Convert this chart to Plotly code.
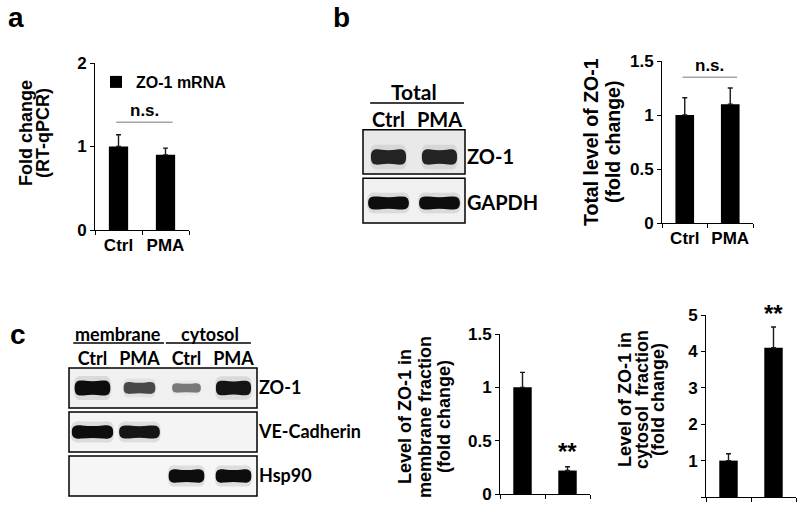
import plotly.graph_objects as go

W, H = 800, 505

groups = ["Ctrl", "PMA"]

# a  ZO-1 mRNA by RT-qPCR (fold change)
mrna_mean = [1.0, 0.9]
mrna_err = [0.14, 0.08]
mrna_ns = 1.29

# b  total ZO-1 protein (fold change)
total_mean = [1.0, 1.1]
total_err = [0.16, 0.15]
total_ns = 1.35

# c  ZO-1 in membrane / cytosol fraction (fold change)
membrane_mean = [1.0, 0.22]
membrane_err = [0.14, 0.035]
cytosol_mean = [1.0, 4.1]
cytosol_err = [0.19, 0.57]

# western blots: relative band strength per lane (0 = no band)
total_lanes = ["Ctrl", "PMA"]
total_rows = ["ZO-1", "GAPDH"]
total_bands = [[0.85, 0.85], [1.0, 1.0]]

frac_lanes = ["Ctrl", "PMA", "Ctrl", "PMA"]
frac_rows = ["ZO-1", "VE-Cadherin", "Hsp90"]
frac_bands = [[1.0, 0.6, 0.3, 0.95], [1.0, 0.95, 0.0, 0.0], [0.0, 0.0, 1.0, 1.0]]


def px(x):
    return x / W


def py(y):
    return 1 - y / H


ARIAL = "Liberation Sans, Arial, sans-serif"
CALIBRI = "Lato, Carlito, Calibri, sans-serif"
tick_font = dict(family=ARIAL, size=17, color="black", weight="bold")

fig = go.Figure()


def add_bars(n, mean, err, legend=False):
    fig.add_trace(go.Bar(
        x=groups, y=mean, width=0.41, name="ZO-1 mRNA", showlegend=legend,
        marker=dict(color="black", line=dict(width=0)),
        error_y=dict(type="data", symmetric=False, array=err, arrayminus=[0] * len(err),
                     color="#1a1a1a", thickness=1.4, width=2.5),
        xaxis="x" + n, yaxis="y" + n))


def bar_axes(n, xdom, ydom, yrange, dtick, labels=True):
    common = dict(showline=True, linecolor="black", linewidth=1, showgrid=False, zeroline=False,
                  ticks="outside", ticklen=4, tickcolor="black", tickfont=tick_font)
    fig.update_layout(**{
        "xaxis" + n: dict(domain=[px(xdom[0]), px(xdom[1])], anchor="y" + n, type="category",
                          range=[-0.5, 1.5], tickson="boundaries", tickangle=0,
                          showticklabels=labels, **common),
        "yaxis" + n: dict(domain=[py(ydom[0]), py(ydom[1])], anchor="x" + n, range=yrange,
                          dtick=dtick, **common),
    })


def ytitle(lines, xs, yc, size=18):
    for text, x in zip(lines, xs):
        fig.add_annotation(text=text, x=px(x), y=py(yc), xref="paper", yref="paper", textangle=-90,
                           showarrow=False, xanchor="center", yanchor="middle",
                           font=dict(family=ARIAL, size=size, color="black", weight="bold"))


def ns_mark(n, level):
    fig.add_shape(type="line", xref="x" + n, yref="y" + n, x0=-0.05, x1=1.15, y0=level, y1=level,
                  line=dict(color="#a6a6a6", width=1.5))
    fig.add_annotation(text="n.s.", xref="x" + n, yref="y" + n, x=0.55, y=level, yanchor="bottom",
                       showarrow=False, font=dict(family=ARIAL, size=17, color="black", weight="bold"))


def stars(n, mean, err, shift=0):
    fig.add_annotation(text="**", xref="x" + n, yref="y" + n, x=1, y=mean[1] + err[1], yanchor="bottom",
                       yshift=shift, showarrow=False,
                       font=dict(family=ARIAL, size=24, color="black", weight="bold"))


# ---- bar charts
add_bars("", mrna_mean, mrna_err, legend=True)
bar_axes("", (95, 189), (230, 63), [0, 2], 1)
ytitle(["Fold change", "(RT-qPCR)"], [26, 43], 133)
ns_mark("", mrna_ns)

add_bars("2", total_mean, total_err)
bar_axes("2", (662, 753), (223, 61), [0, 1.5], 0.5)
ytitle(["Total level of ZO-1", "(fold change)"], [591, 613], 142, size=19.5)
ns_mark("2", total_ns)

add_bars("3", membrane_mean, membrane_err)
bar_axes("3", (500, 590), (494, 334), [0, 1.5], 0.5, labels=False)
ytitle(["Level of ZO-1 in", "membrane fraction", "(fold change)"], [405, 425, 444], 417)
stars("3", membrane_mean, membrane_err)

add_bars("4", cytosol_mean, cytosol_err)
bar_axes("4", (706, 796), (497, 315), [0, 5], 1, labels=False)
ytitle(["Level of ZO-1 in", "cytosol  fraction", "(fold change)"], [625, 642, 658], 400)
stars("4", cytosol_mean, cytosol_err, shift=-2)


# ---- western blots
def band_path(cx, cy, hw, hh, pinch=0.8):
    def P(x, y):
        return f"{cx + x * hw:.4f},{cy + y * hh:.4f}"
    return ("M" + P(-1, 0)
            + " C" + P(-1, -1) + " " + P(-0.8, -1.05) + " " + P(-0.5, -1)
            + " Q" + P(0, -pinch) + " " + P(0.5, -1)
            + " C" + P(0.8, -1.05) + " " + P(1, -1) + " " + P(1, 0)
            + " C" + P(1, 1) + " " + P(0.8, 1.05) + " " + P(0.5, 1)
            + " Q" + P(0, pinch) + " " + P(-0.5, 1)
            + " C" + P(-0.8, 1.05) + " " + P(-1, 1) + " " + P(-1, 0) + " Z")


def blot_axes(n, lanes, rows, xr, yr, x0, dx, y0, dy, lane_y, row_x, size):
    lab = dict(family=CALIBRI, size=size, color="black", weight="bold")
    hidden = dict(showline=False, showgrid=False, zeroline=False, ticks="", anchor="free", tickfont=lab)
    fig.update_layout(**{
        "xaxis" + n: dict(domain=[px(x0 + xr[0] * dx), px(x0 + xr[1] * dx)], range=xr, side="top",
                          position=py(lane_y), tickvals=list(range(len(lanes))), ticktext=lanes, **hidden),
        "yaxis" + n: dict(domain=[py(y0 + yr[1] * dy), py(y0 + yr[0] * dy)], range=[yr[1], yr[0]],
                          side="right", position=px(row_x), tickvals=list(range(len(rows))),
                          ticktext=rows, **hidden),
    })
    xs = list(range(len(lanes)))
    fig.add_trace(go.Scatter(x=xs, y=[0] * len(xs), mode="markers", marker=dict(opacity=0),
                             xaxis="x" + n, yaxis="y" + n, showlegend=False, hoverinfo="skip"))


def draw_blot(n, bands, fills, extents, hw, hh):
    xref, yref = "x" + n, "y" + n
    nl = len(bands[0])
    for r, row in enumerate(bands):
        y_top, y_bot = r + extents[r][0], r + extents[r][1]
        fig.add_shape(type="rect", xref=xref, yref=yref, x0=-0.5, x1=nl - 0.5, y0=y_top, y1=y_bot,
                      fillcolor=fills[r], line_width=0)
        for lane, s in enumerate(row):
            if s <= 0:
                continue
            w = hw[r] * (0.72 + 0.28 * s)
            h = hh[r] * (0.45 + 0.55 * s)
            # soft halo, then the dark core of the band
            fig.add_shape(type="path", xref=xref, yref=yref, path=band_path(lane, r, w * 1.05, h * 1.6, 1.0),
                          fillcolor="#888888", opacity=0.22 * s, line_width=0)
            fig.add_shape(type="path", xref=xref, yref=yref, path=band_path(lane, r, w, h),
                          fillcolor="#0d0d0d", opacity=0.3 + 0.7 * s, line_width=0)
        fig.add_shape(type="rect", xref=xref, yref=yref, x0=-0.5, x1=nl - 0.5, y0=y_top, y1=y_bot,
                      fillcolor="rgba(0,0,0,0)", line=dict(color="black", width=1.5))


# b blot
blot_axes("5", total_lanes, total_rows, [-0.56, 1.56], [-0.65, 1.55], 388.5, 51, 157, 46,
          lane_y=131, row_x=466, size=20)
draw_blot("5", total_bands, ["#e9e9e9", "#f1f1f1"], [(-0.59, 0.37), (-0.54, 0.435)],
          hw=[0.36, 0.40], hh=[0.18, 0.14])
fig.add_annotation(text="Total", xref="x5", yref="paper", x=0.5, y=py(92), yanchor="middle",
                   showarrow=False, font=dict(family=CALIBRI, size=21, color="black", weight="bold"))
fig.add_shape(type="line", xref="x5", yref="paper", x0=-0.36, x1=1.48, y0=py(103), y1=py(103),
              line=dict(color="black", width=1.5))

# c blot
blot_axes("6", frac_lanes, frac_rows, [-0.56, 3.56], [-0.56, 2.56], 92.5, 47, 388, 44,
          lane_y=369, row_x=258, size=18)
draw_blot("6", frac_bands, ["#f0f0f0", "#f4f4f4", "#f6f6f6"], [(-0.455, 0.455)] * 3,
          hw=[0.38, 0.44, 0.38], hh=[0.17, 0.15, 0.15])
for text, xc, u0, u1 in [("membrane", 0.55, -0.41, 1.52), ("cytosol", 2.5, 1.56, 3.37)]:
    fig.add_annotation(text=text, xref="x6", yref="paper", x=xc, y=py(334), yanchor="middle",
                       showarrow=False, font=dict(family=CALIBRI, size=18, color="black", weight="bold"))
    fig.add_shape(type="line", xref="x6", yref="paper", x0=u0, x1=u1, y0=py(343), y1=py(343),
                  line=dict(color="black", width=1.5))

# panel letters
for letter, lx, ly in [("a", 6, 0), ("b", 331, 0), ("c", 8, 317)]:
    fig.add_annotation(text=letter, x=px(lx), y=py(ly), xref="paper", yref="paper", showarrow=False,
                       xanchor="left", yanchor="top",
                       font=dict(family=ARIAL, size=28, color="black", weight="bold"))

fig.update_layout(
    width=W, height=H, margin=dict(l=0, r=0, t=0, b=0, autoexpand=False),
    paper_bgcolor="white", plot_bgcolor="white", showlegend=True, hovermode=False,
    legend=dict(x=px(96), y=py(65), xanchor="left", yanchor="top", bgcolor="rgba(0,0,0,0)",
                font=dict(family=ARIAL, size=16, color="black", weight="bold")),
)

# the page's default body margin would offset the 800x505 figure inside the window
fig.write_html("out.html", config={"displayModeBar": False},
               post_script="document.body.style.margin = '0';")
